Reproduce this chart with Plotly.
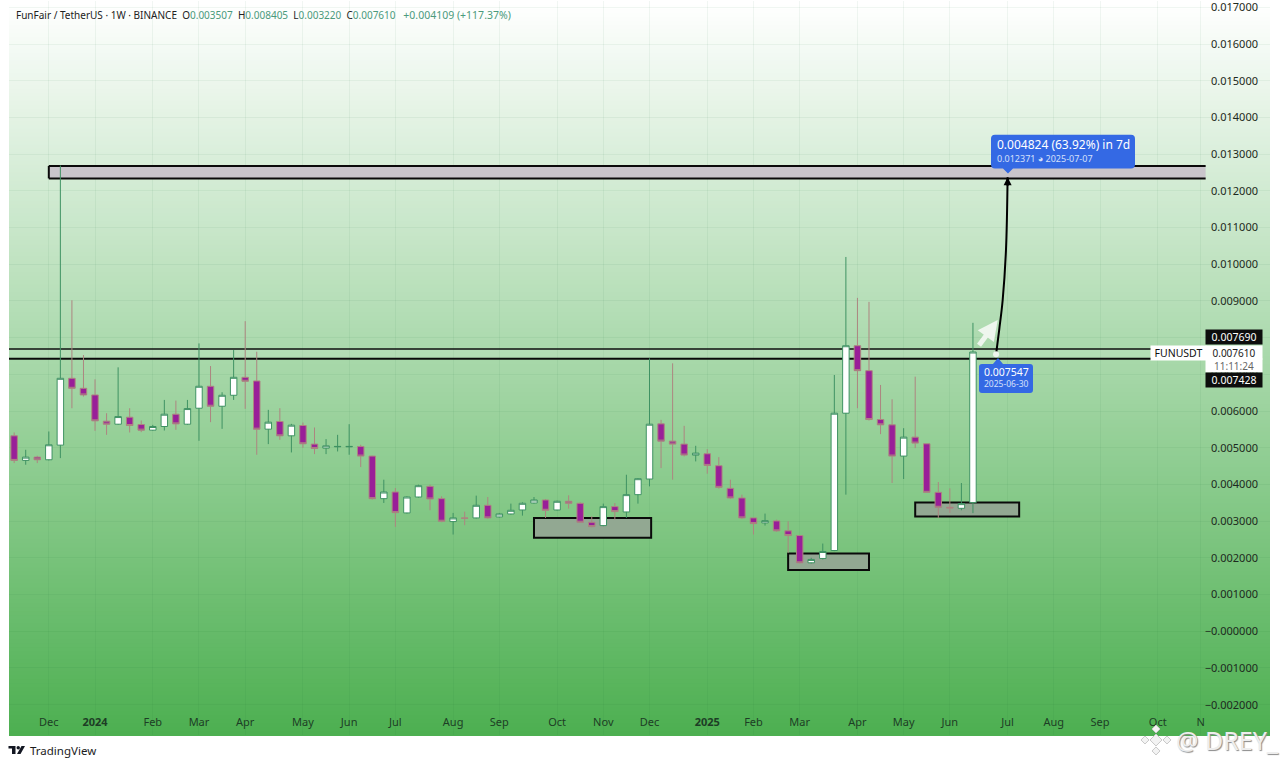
import pandas as pd
import plotly.graph_objects as go

# weekly candles
week_dates = pd.date_range("2023-11-13", periods=84, freq="7D")

opens = [
    0.005326, 0.004656, 0.004746, 0.004674, 0.005072, 0.006893, 0.006621, 0.006440, 0.005725, 0.005643, 0.005833, 0.005634,
    0.005480, 0.005580, 0.005915, 0.005643, 0.006078, 0.006676, 0.006132, 0.006431, 0.006920, 0.006821, 0.005507, 0.005716,
    0.005326, 0.005607, 0.005100, 0.004991, 0.005027, 0.005027, 0.005036, 0.004774, 0.003614, 0.003795, 0.003225, 0.003659,
    0.003949, 0.003614, 0.002989, 0.003089, 0.003089, 0.003433, 0.003116, 0.003197, 0.003306, 0.003496, 0.003578, 0.003306,
    0.003542, 0.003487, 0.002971, 0.002880, 0.003397, 0.003252, 0.003723, 0.004149, 0.005652, 0.005181, 0.005100, 0.004801,
    0.004837, 0.004511, 0.003895, 0.003632, 0.003089, 0.002953, 0.003007, 0.002736, 0.002609, 0.001866, 0.001984, 0.002201,
    0.005942, 0.007781, 0.007101, 0.005770, 0.005625, 0.004774, 0.005290, 0.005109, 0.003786, 0.003379, 0.003351, 0.003507,
]
highs = [
    0.005417, 0.004946, 0.004783, 0.005444, 0.012690, 0.009020, 0.007527, 0.006866, 0.005942, 0.007192, 0.006078, 0.005743,
    0.005625, 0.006304, 0.006286, 0.006304, 0.007844, 0.007228, 0.006513, 0.007663, 0.008450, 0.007618, 0.006033, 0.006078,
    0.005652, 0.005688, 0.005553, 0.005236, 0.005353, 0.005643, 0.005082, 0.004783, 0.004130, 0.003904, 0.003678, 0.003995,
    0.003995, 0.003678, 0.003225, 0.003261, 0.003696, 0.003659, 0.003225, 0.003478, 0.003514, 0.003659, 0.003605, 0.003560,
    0.003705, 0.003514, 0.003134, 0.003478, 0.003496, 0.004266, 0.004176, 0.007437, 0.005761, 0.007301, 0.005598, 0.005054,
    0.004964, 0.004746, 0.004130, 0.003723, 0.003089, 0.003207, 0.003043, 0.002998, 0.002618, 0.002002, 0.002391, 0.006984,
    0.010199, 0.009085, 0.008976, 0.006712, 0.006322, 0.005534, 0.006938, 0.005109, 0.004067, 0.003895, 0.004040, 0.008405,
]
lows = [
    0.004583, 0.004538, 0.004583, 0.004656, 0.004719, 0.006078, 0.006395, 0.005462, 0.005353, 0.005625, 0.005417, 0.005426,
    0.005462, 0.005471, 0.005489, 0.005625, 0.005190, 0.005698, 0.005516, 0.006304, 0.006060, 0.004810, 0.005100, 0.005217,
    0.004873, 0.005000, 0.004828, 0.004828, 0.004900, 0.004810, 0.004475, 0.003587, 0.003496, 0.002844, 0.003207, 0.003641,
    0.003297, 0.002971, 0.002636, 0.002890, 0.003071, 0.003062, 0.003098, 0.003179, 0.003152, 0.003478, 0.003089, 0.003288,
    0.003342, 0.002953, 0.002835, 0.002862, 0.003043, 0.003089, 0.003478, 0.003949, 0.004447, 0.004130, 0.004765, 0.004629,
    0.004294, 0.003886, 0.003605, 0.003062, 0.002636, 0.002880, 0.002708, 0.002138, 0.001848, 0.001848, 0.001957, 0.002183,
    0.003723, 0.006078, 0.005743, 0.005371, 0.004040, 0.004149, 0.004991, 0.003768, 0.003089, 0.003225, 0.003297, 0.003220,
]
closes = [
    0.004656, 0.004746, 0.004674, 0.005082, 0.006893, 0.006621, 0.006440, 0.005734, 0.005643, 0.005851, 0.005607, 0.005480,
    0.005580, 0.005915, 0.005652, 0.006069, 0.006676, 0.006132, 0.006431, 0.006920, 0.006812, 0.005507, 0.005698, 0.005326,
    0.005616, 0.005109, 0.004982, 0.005054, 0.005036, 0.005036, 0.004774, 0.003614, 0.003795, 0.003234, 0.003659, 0.003967,
    0.003605, 0.002998, 0.003089, 0.003080, 0.003433, 0.003089, 0.003197, 0.003297, 0.003487, 0.003578, 0.003297, 0.003542,
    0.003487, 0.002971, 0.002853, 0.003397, 0.003261, 0.003723, 0.004158, 0.005643, 0.005181, 0.005100, 0.004801, 0.004855,
    0.004520, 0.003922, 0.003632, 0.003089, 0.002935, 0.003016, 0.002736, 0.002609, 0.001866, 0.001957, 0.002174, 0.005942,
    0.007781, 0.007101, 0.005770, 0.005625, 0.004774, 0.005290, 0.005127, 0.003786, 0.003379, 0.003361, 0.003478, 0.007610,
]

# axis labels
month_ticks = [
    "2023-12-04", "2024-01-01", "2024-02-05", "2024-03-04", "2024-04-01", "2024-05-06", "2024-06-03", "2024-07-01",
    "2024-08-05", "2024-09-02", "2024-10-07", "2024-11-04", "2024-12-02", "2025-01-06", "2025-02-03", "2025-03-03",
    "2025-04-07", "2025-05-05", "2025-06-02", "2025-07-07", "2025-08-04", "2025-09-01", "2025-10-06", "2025-11-01",
]
month_labels = [
    "Dec", "<b>2024</b>", "Feb", "Mar", "Apr", "May", "Jun", "Jul", "Aug", "Sep", "Oct", "Nov", "Dec",
    "<b>2025</b>", "Feb", "Mar", "Apr", "May", "Jun", "Jul", "Aug", "Sep", "Oct", "N",
]
price_ticks = [i / 1000 for i in range(-2, 18)]
price_labels = ["\u22120.002000", "\u22120.001000", "\u22120.000000"] + [f"{p:.6f}" for p in price_ticks[3:]]

# drawings on the chart: start, end, top, bottom
zones = [
    ("2024-09-23", "2024-12-03", 0.00309, 0.00255),
    ("2025-02-24", "2025-04-14", 0.00212, 0.00167),
    ("2025-05-12", "2025-07-14", 0.00351, 0.00313),
]
resistance = ("2023-12-04", "2025-11-04", 0.01268, 0.01234)
level_top = 0.007690
level_bottom = 0.007428

path_dates = ["2025-06-30", "2025-07-02", "2025-07-04", "2025-07-06", "2025-07-07"]
path_prices = [0.007547, 0.008250, 0.009020, 0.010380, 0.012371]

X_RANGE = ["2023-11-09 21:00", "2025-12-13"]
Y_RANGE = [-0.002826, 0.017174]
W, H = 1280, 767
LEFT, RIGHT, BOTTOM = 9, 1270, 736


def px(x):
    return (x - LEFT) / (RIGHT - LEFT)


def py(y):
    return 1 - y / BOTTOM


def svg(points):
    return "M" + " L".join(f"{px(x):.5f},{py(y):.5f}" for x, y in points) + " Z"


def rounded(x0, y0, x1, y1, r=3, notch=None):
    # notch = (x, tip_y) draws the small pointer of the tv price label
    pts = [f"M{px(x0 + r):.5f},{py(y0):.5f}"]
    if notch and notch[1] < y0:
        pts += [f"L{px(notch[0] - 5):.5f},{py(y0):.5f}", f"L{px(notch[0]):.5f},{py(notch[1]):.5f}", f"L{px(notch[0] + 5):.5f},{py(y0):.5f}"]
    pts += [f"L{px(x1 - r):.5f},{py(y0):.5f}", f"Q{px(x1):.5f},{py(y0):.5f} {px(x1):.5f},{py(y0 + r):.5f}"]
    pts += [f"L{px(x1):.5f},{py(y1 - r):.5f}", f"Q{px(x1):.5f},{py(y1):.5f} {px(x1 - r):.5f},{py(y1):.5f}"]
    if notch and notch[1] > y1:
        pts += [f"L{px(notch[0] + 5):.5f},{py(y1):.5f}", f"L{px(notch[0]):.5f},{py(notch[1]):.5f}", f"L{px(notch[0] - 5):.5f},{py(y1):.5f}"]
    pts += [f"L{px(x0 + r):.5f},{py(y1):.5f}", f"Q{px(x0):.5f},{py(y1):.5f} {px(x0):.5f},{py(y1 - r):.5f}"]
    pts += [f"L{px(x0):.5f},{py(y0 + r):.5f}", f"Q{px(x0):.5f},{py(y0):.5f} {px(x0 + r):.5f},{py(y0):.5f} Z"]
    return " ".join(pts)


def paper_shape(path, fill, line=None, layer="above", width=1):
    return dict(type="path", xref="paper", yref="paper", path=path, fillcolor=fill, layer=layer,
                line=dict(color=line or "rgba(0,0,0,0)", width=width if line else 0))


def label(x, y, text, size=10.5, color="#222222", anchor="center", bg=None, w=None, h=None, **kw):
    return dict(xref="paper", yref="paper", x=px(x), y=py(y), text=text, showarrow=False,
                xanchor=anchor, yanchor="middle", align=anchor, bgcolor=bg, width=w, height=h, borderpad=0,
                font=dict(family="Noto Sans", size=size, color=color, **kw))


def hline(x0, x1, y, color="#0a0a0a", width=2):
    return dict(type="line", x0=x0, x1=x1, y0=y, y1=y, line=dict(color=color, width=width), layer="between")


fig = go.Figure()

fig.add_trace(go.Candlestick(
    x=week_dates, open=opens, high=highs, low=lows, close=closes,
    increasing=dict(fillcolor="#ffffff", line=dict(color="#3f9263", width=1)),
    decreasing=dict(fillcolor="#991f98", line=dict(color="#ad8580", width=1)),
    whiskerwidth=0, hoverinfo="skip", showlegend=False,
))
fig.add_trace(go.Scatter(
    x=path_dates, y=path_prices, mode="lines", line=dict(color="#000000", width=2, shape="spline"),
    hoverinfo="skip", showlegend=False,
))
fig.add_trace(go.Scatter(
    x=path_dates[:1], y=path_prices[:1], mode="markers", marker=dict(color="#eef6ee", size=6),
    hoverinfo="skip", showlegend=False,
))

shapes = []

# background fade, white at the top down to green
for i in range(0, BOTTOM, 4):
    t = i / BOTTOM
    color = f"rgb({round(255 - 179 * t)},{round(255 - 80 * t)},{round(255 - 175 * t)})"
    shapes.append(dict(type="rect", xref="paper", yref="paper", x0=0, x1=1, y0=py(i + 5), y1=py(i),
                       fillcolor=color, line_width=0, layer="below"))

for start, end, top, bottom in zones:
    shapes.append(dict(type="rect", x0=start, x1=end, y0=bottom, y1=top, fillcolor="#92a892",
                       line=dict(color="#0a0a0a", width=2), layer="between"))

# resistance box has no border on its right side
start, end, top, bottom = resistance
shapes.append(dict(type="rect", x0=start, x1=end, y0=bottom, y1=top, fillcolor="#c9c5cb", line_width=0, layer="between"))
shapes.append(hline(start, end, top))
shapes.append(hline(start, end, bottom))
shapes.append(dict(type="line", x0=start, x1=start, y0=bottom, y1=top, line=dict(color="#0a0a0a", width=2), layer="between"))

shapes.append(dict(type="rect", x0=X_RANGE[0], x1="2025-11-04", y0=level_bottom, y1=level_top,
                   fillcolor="rgba(255,255,255,0.12)", line_width=0, layer="between"))
shapes.append(hline(X_RANGE[0], "2025-11-04", level_top, color="#111111", width=1.5))
shapes.append(hline(X_RANGE[0], "2025-11-04", level_bottom))

# blue measure labels
shapes.append(paper_shape(rounded(991, 134, 1135, 168, r=4, notch=(1008, 173)), "#3469e4"))
shapes.append(paper_shape(rounded(979, 364, 1033, 393, r=3, notch=(998, 358)), "#3469e4"))

# tradingview logo
shapes.append(paper_shape(svg([(8.5, 747), (15.5, 747), (15.5, 755), (12, 755), (12, 749.5), (8.5, 749.5)]), "#131722"))
shapes.append(paper_shape(svg([(21.5, 747), (25, 747), (20.5, 755), (17, 755)]), "#131722"))
shapes.append(dict(type="circle", xref="paper", yref="paper", x0=px(16.5), x1=px(20), y0=py(750.5), y1=py(747),
                   fillcolor="#131722", line_width=0))

# watermark diamonds
for cx, cy, r in [(1156, 741, 6), (1156, 730, 4), (1156, 752, 4), (1145, 741, 4), (1167, 741, 4)]:
    shapes.append(paper_shape(svg([(cx, cy - r), (cx + r, cy), (cx, cy + r), (cx - r, cy)]), "#f3f3f3", line="#c9c9c9"))

green = "#4b9a7c"
header = (
    "FunFair / TetherUS \u00b7 1W \u00b7 BINANCE&nbsp; "
    f"O<span style='color:{green}'>0.003507</span>&nbsp; "
    f"H<span style='color:{green}'>0.008405</span>&nbsp; "
    f"L<span style='color:{green}'>0.003220</span>&nbsp; "
    f"C<span style='color:{green}'>0.007610</span>&nbsp;&nbsp; "
    f"<span style='color:{green};font-size:10.5px'>+0.004109 (+117.37%)</span>"
)

annotations = [
    label(15, 14, header, size=10, anchor="left"),
    label(996, 144, "0.004824 (63.92%) in 7d", size=12, color="#ffffff", anchor="left"),
    label(996, 158, "0.012371 \u25d5 2025-07-07", size=9, color="#d5e0fb", anchor="left"),
    label(1006, 372, "0.007547", size=10.5, color="#ffffff"),
    label(1006, 384, "2025-06-30", size=8.5, color="#d5e0fb"),
    label(1233.5, 337, "0.007690", color="#ffffff", bg="#0d0d0d", w=56, h=14),
    label(1178, 353, "FUNUSDT", color="#111111", bg="#ffffff", w=55, h=14),
    label(1233.5, 352.5, "0.007610", size=10, bg="#ffffff", w=56, h=13),
    label(1233.5, 365.5, "11:11:24", size=10, color="#666666", bg="#ffffff", w=56, h=13),
    label(1233.5, 380.5, "0.007428", color="#ffffff", bg="#0d0d0d", w=56, h=14),
    label(29, 752, "TradingView", size=11.5, color="#1c1c1c", anchor="left"),
    label(1175, 741, "@ DREY_", size=25, color="#ededed", anchor="left", shadow="1px 1px 1px #8a8a8a"),
    # white hand drawn arrow, then the tip of the projection
    dict(x="2025-07-01", y=0.00848, ax="2025-06-19", ay=0.00775, xref="x", yref="y", axref="x", ayref="y", text="",
         showarrow=True, arrowhead=2, arrowsize=0.8, arrowwidth=5, arrowcolor="#eef6ee"),
    dict(x=path_dates[-1], y=path_prices[-1], ax=0, ay=10, xref="x", yref="y", text="",
         showarrow=True, arrowhead=2, arrowsize=0.8, arrowwidth=2, arrowcolor="#000000"),
]

fig.update_layout(
    width=W, height=H, margin=dict(l=LEFT, r=W - RIGHT, t=0, b=H - BOTTOM),
    paper_bgcolor="#ffffff", plot_bgcolor="rgba(0,0,0,0)", showlegend=False, dragmode=False,
    font=dict(family="Noto Sans", size=11, color="#1f2a22"), boxgap=0.2, boxgroupgap=0.3,
    shapes=shapes, annotations=annotations,
)
fig.update_xaxes(
    type="date", range=X_RANGE, tickvals=month_ticks, ticktext=month_labels, tickangle=0,
    ticklabelposition="inside", ticks="", showgrid=True, gridcolor="rgba(25,100,45,0.06)", gridwidth=1,
    showline=False, zeroline=False, rangeslider_visible=False, tickfont=dict(size=11, color="#1d3d25"),
    ticklabelstandoff=4, ticklabeloverflow="allow",
)
fig.update_yaxes(
    side="right", range=Y_RANGE, tickvals=price_ticks, ticktext=price_labels,
    ticklabelposition="inside", ticks="", showgrid=True, gridcolor="rgba(25,100,45,0.06)", gridwidth=1,
    showline=False, zeroline=False, tickfont=dict(size=11, color="#1d2a20"), ticklabelstandoff=9,
    ticklabeloverflow="allow",
)

# the whole page sat about a pixel low against the reference
fig.write_html("out.html", config=dict(displayModeBar=False), post_script="document.body.style.margin='-1px 0 0 0';")
